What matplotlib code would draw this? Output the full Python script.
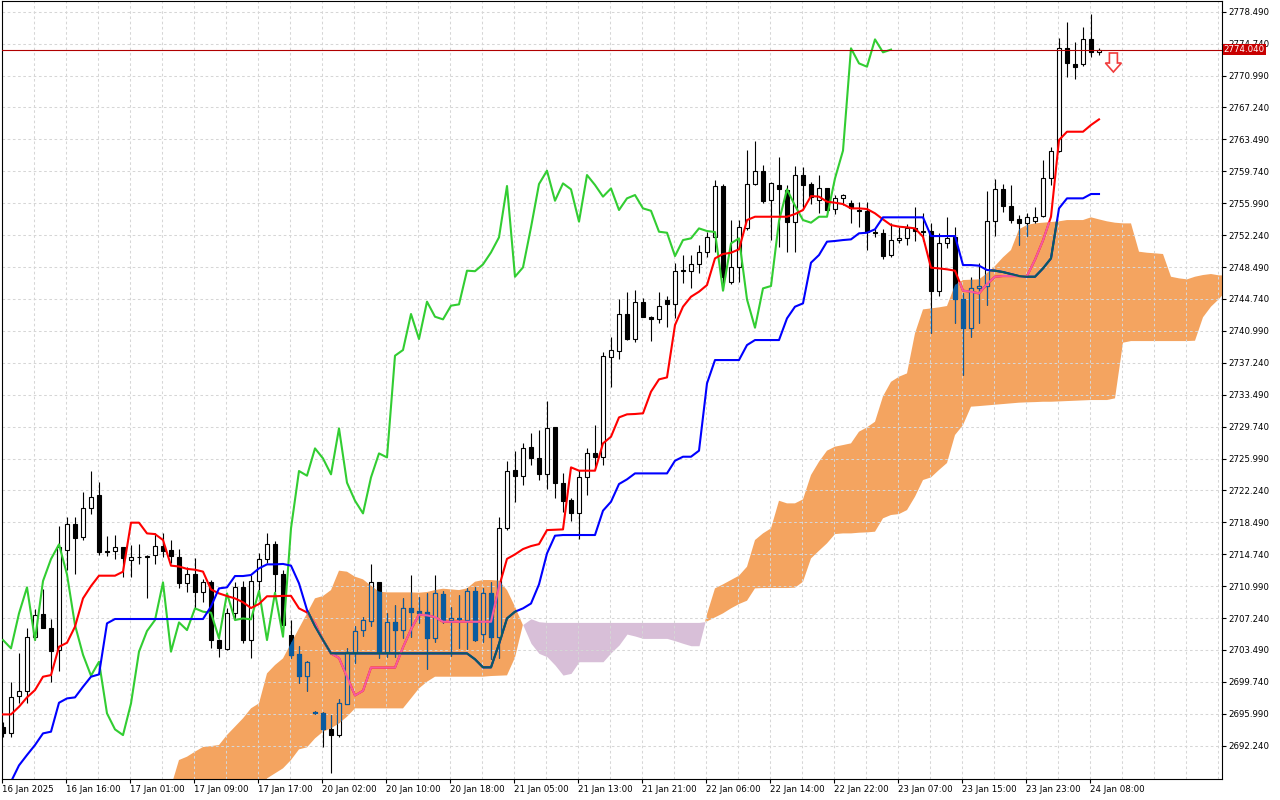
import numpy as np
import matplotlib.pyplot as plt
from matplotlib.path import Path
from matplotlib.patches import Polygon
import matplotlib.transforms as mtransforms

plt.rcParams['font.family'] = ['DejaVu Sans']

# --- H1 candles (XAUUSD style), bar 0 = 16 Jan 2025 08:00 ---
opens = [
    2694.47, 2693.77, 2698.08, 2698.67, 2705.05, 2707.71, 2706.03, 2703.48, 2715.23, 2718.25,
    2716.72, 2720.13, 2721.70, 2715.12, 2715.12, 2715.55, 2714.06, 2714.37, 2714.45, 2714.65,
    2715.74, 2715.23, 2714.45, 2711.32, 2712.37, 2710.26, 2711.43, 2704.66, 2703.60, 2707.79,
    2710.85, 2704.66, 2711.59, 2714.18, 2715.90, 2712.37, 2705.30, 2702.97, 2700.47, 2696.24,
    2696.04, 2694.16, 2693.49, 2697.14, 2703.29, 2705.83, 2706.89, 2711.43, 2703.29, 2706.73,
    2705.83, 2708.38, 2708.07, 2707.99, 2704.85, 2710.06, 2707.01, 2707.20, 2707.01, 2710.42,
    2705.32, 2710.22, 2705.05, 2717.78, 2724.63, 2723.97, 2727.30, 2726.00, 2724.13, 2729.65,
    2723.15, 2721.11, 2719.54, 2723.77, 2726.59, 2726.12, 2737.95, 2738.66, 2742.97, 2740.03,
    2744.42, 2742.65, 2742.34, 2744.61, 2744.10, 2748.06, 2748.02, 2748.80, 2750.21, 2751.98,
    2758.01, 2746.77, 2748.45, 2753.03, 2758.24, 2759.81, 2756.36, 2758.13, 2757.54, 2753.82,
    2759.30, 2758.24, 2756.36, 2757.73, 2755.27, 2756.56, 2755.97, 2755.20, 2755.11, 2752.60,
    2752.45, 2749.90, 2751.66, 2751.86, 2753.11, 2752.70, 2752.72, 2745.71, 2751.35, 2752.05,
    2744.69, 2741.36, 2745.98, 2746.26, 2753.89, 2757.62, 2755.70, 2754.09, 2753.70, 2753.93,
    2754.48, 2758.91, 2762.17, 2774.19, 2772.34, 2772.31, 2775.24, 2773.80,
]
highs = [
    2695.00, 2699.76, 2703.17, 2706.03, 2708.26, 2710.61, 2707.09, 2718.05, 2719.07, 2719.07,
    2722.09, 2724.52, 2723.19, 2716.88, 2716.99, 2715.55, 2715.82, 2715.94, 2714.65, 2717.19,
    2717.19, 2716.41, 2715.31, 2713.28, 2714.26, 2711.83, 2711.71, 2704.74, 2708.38, 2711.51,
    2711.63, 2712.30, 2714.92, 2717.19, 2716.29, 2712.88, 2707.01, 2703.95, 2702.23, 2696.30,
    2696.24, 2695.85, 2697.68, 2703.76, 2706.30, 2707.32, 2713.59, 2711.51, 2707.87, 2708.77,
    2709.55, 2712.30, 2709.75, 2710.22, 2712.30, 2710.42, 2708.57, 2709.95, 2710.73, 2710.93,
    2710.73, 2711.51, 2719.15, 2725.69, 2726.87, 2727.77, 2728.94, 2729.33, 2732.74, 2729.65,
    2724.24, 2721.30, 2724.63, 2727.18, 2729.92, 2738.54, 2740.30, 2744.69, 2745.59, 2745.79,
    2744.81, 2742.73, 2745.59, 2745.08, 2748.92, 2749.90, 2749.90, 2751.08, 2752.64, 2758.71,
    2758.24, 2754.01, 2754.01, 2762.24, 2763.30, 2760.48, 2758.52, 2761.46, 2758.13, 2760.36,
    2760.28, 2758.52, 2759.30, 2757.81, 2756.95, 2757.07, 2756.36, 2756.17, 2756.17, 2752.92,
    2752.92, 2753.70, 2753.23, 2753.54, 2755.58, 2754.80, 2753.70, 2752.45, 2754.40, 2753.23,
    2745.40, 2747.35, 2748.92, 2757.46, 2758.79, 2758.24, 2758.13, 2754.60, 2754.80, 2755.58,
    2761.06, 2762.63, 2775.36, 2777.32, 2774.97, 2776.65, 2778.22, 2774.18,
]
lows = [
    2693.30, 2693.22, 2697.29, 2697.21, 2704.66, 2706.03, 2699.76, 2701.05, 2712.88, 2712.41,
    2716.41, 2719.46, 2714.65, 2714.57, 2714.18, 2712.10, 2712.10, 2713.55, 2709.55, 2713.59,
    2714.37, 2713.67, 2710.81, 2710.34, 2708.38, 2709.16, 2703.68, 2702.62, 2703.48, 2707.13,
    2704.27, 2702.50, 2710.53, 2713.67, 2710.34, 2706.03, 2702.50, 2699.65, 2698.66, 2696.00,
    2692.12, 2688.99, 2693.30, 2697.14, 2701.92, 2705.13, 2706.30, 2702.50, 2702.70, 2702.70,
    2704.93, 2705.05, 2706.62, 2701.21, 2704.46, 2706.62, 2702.82, 2703.76, 2703.60, 2704.58,
    2704.46, 2702.39, 2702.50, 2717.58, 2720.91, 2722.87, 2725.22, 2723.46, 2722.40, 2721.30,
    2719.74, 2718.68, 2716.50, 2721.70, 2725.03, 2725.22, 2734.43, 2737.64, 2739.91, 2739.72,
    2742.58, 2739.83, 2741.87, 2741.48, 2742.46, 2746.65, 2746.06, 2747.75, 2749.70, 2750.29,
    2745.79, 2746.49, 2746.77, 2752.84, 2758.13, 2755.97, 2751.66, 2750.88, 2750.29, 2750.29,
    2755.38, 2755.89, 2754.80, 2754.99, 2754.72, 2755.78, 2753.70, 2753.23, 2750.49, 2751.98,
    2749.39, 2749.70, 2751.35, 2751.08, 2751.59, 2751.59, 2740.77, 2745.12, 2750.68, 2741.87,
    2735.80, 2740.22, 2741.95, 2744.02, 2752.13, 2755.00, 2753.70, 2751.08, 2752.13, 2753.70,
    2754.40, 2758.13, 2762.05, 2770.86, 2770.54, 2772.11, 2773.21, 2773.40,
]
closes = [
    2693.77, 2698.00, 2698.67, 2705.05, 2707.56, 2706.11, 2703.41, 2715.55, 2718.25, 2716.60,
    2720.13, 2721.50, 2714.96, 2715.00, 2715.55, 2714.33, 2714.37, 2714.40, 2714.49, 2715.74,
    2715.16, 2714.57, 2711.32, 2712.37, 2710.26, 2711.43, 2704.66, 2703.68, 2707.79, 2710.85,
    2704.66, 2711.59, 2714.18, 2715.90, 2712.37, 2706.42, 2702.93, 2700.47, 2702.11, 2696.04,
    2694.16, 2693.49, 2697.21, 2703.29, 2705.72, 2707.01, 2711.43, 2703.29, 2706.73, 2705.83,
    2708.38, 2707.99, 2707.87, 2704.85, 2710.14, 2707.01, 2707.20, 2707.09, 2710.42, 2704.66,
    2710.22, 2705.05, 2717.78, 2724.52, 2723.97, 2727.18, 2726.00, 2724.13, 2729.53, 2723.15,
    2721.03, 2719.54, 2723.77, 2726.59, 2726.12, 2738.07, 2738.74, 2742.97, 2740.03, 2744.42,
    2742.65, 2742.34, 2743.95, 2744.10, 2748.06, 2748.00, 2748.80, 2750.21, 2751.98, 2758.01,
    2747.35, 2748.45, 2753.15, 2758.24, 2759.81, 2756.28, 2758.32, 2757.62, 2753.82, 2759.30,
    2758.13, 2756.76, 2757.73, 2755.19, 2756.56, 2756.95, 2755.38, 2755.10, 2752.64, 2752.52,
    2749.78, 2751.66, 2751.86, 2753.03, 2752.72, 2752.60, 2745.71, 2751.27, 2751.86, 2744.69,
    2741.36, 2745.98, 2746.26, 2753.89, 2757.62, 2755.70, 2754.01, 2753.70, 2754.40, 2754.40,
    2758.91, 2762.17, 2774.19, 2772.42, 2772.03, 2775.24, 2773.72, 2774.04,
]

# --- Ichimoku lines ---
tenkan = [
    2695.92, 2695.92, 2696.82, 2697.92, 2698.78, 2700.35, 2700.54, 2703.87, 2704.34, 2706.23,
    2709.55, 2711.00, 2712.22, 2712.22, 2712.22, 2712.69, 2718.45, 2718.45, 2717.19, 2717.11,
    2716.41, 2713.40, 2713.30, 2713.02, 2712.92, 2712.70, 2710.60, 2710.14, 2709.83, 2709.55,
    2709.10, 2708.42, 2708.90, 2709.80, 2709.80, 2709.85, 2709.85, 2708.38, 2707.90, 2706.62,
    2704.62, 2703.09, 2702.55, 2700.35, 2698.15, 2698.70, 2701.42, 2701.42, 2701.42, 2701.42,
    2703.80, 2705.90, 2707.65, 2707.56, 2707.36, 2706.81, 2706.81, 2706.81, 2706.81, 2706.81,
    2706.81, 2706.81, 2710.90, 2714.20, 2714.72, 2715.35, 2715.70, 2715.93, 2717.58, 2717.62,
    2717.66, 2724.95, 2724.56, 2724.56, 2724.56, 2727.77, 2728.55, 2730.82, 2731.18, 2731.22,
    2731.30, 2733.84, 2735.29, 2735.52, 2741.67, 2743.83, 2745.00, 2745.59, 2746.37, 2749.51,
    2750.02, 2750.17, 2750.57, 2754.01, 2754.40, 2754.40, 2754.40, 2754.40, 2754.40, 2754.72,
    2755.19, 2756.83, 2756.76, 2756.17, 2756.05, 2755.89, 2755.38, 2755.38, 2755.31, 2754.80,
    2754.09, 2753.42, 2753.23, 2753.15, 2753.03, 2752.05, 2748.41, 2748.33, 2748.22, 2748.06,
    2745.71, 2745.59, 2745.39, 2746.49, 2747.35, 2747.43, 2747.43, 2747.43, 2747.43, 2749.35,
    2751.62, 2754.40, 2763.41, 2764.39, 2764.39, 2764.39, 2765.18, 2765.84,
]
kijun = [
    2686.05, 2688.01, 2689.93, 2691.15, 2692.32, 2693.69, 2693.89, 2697.29, 2697.80, 2697.92,
    2699.17, 2700.35, 2700.62, 2706.62, 2707.13, 2707.13, 2707.13, 2707.13, 2707.13, 2707.13,
    2707.13, 2707.13, 2707.13, 2707.13, 2707.13, 2707.13, 2708.60, 2710.73, 2710.85, 2712.18,
    2712.18, 2712.30, 2713.08, 2713.55, 2713.55, 2713.60, 2713.40, 2711.32, 2708.20, 2706.30,
    2704.66, 2703.09, 2703.09, 2703.09, 2703.09, 2703.09, 2703.09, 2703.09, 2703.09, 2703.09,
    2703.09, 2703.09, 2703.09, 2703.09, 2703.09, 2703.09, 2703.09, 2703.09, 2703.09, 2702.40,
    2701.45, 2701.45, 2704.20, 2707.20, 2707.99, 2708.38, 2708.95, 2711.20, 2714.84, 2716.92,
    2717.00, 2717.00, 2717.00, 2717.00, 2717.00, 2719.86, 2720.91, 2722.99, 2723.54, 2724.24,
    2724.24, 2724.24, 2724.24, 2724.24, 2725.73, 2726.20, 2726.20, 2726.91, 2734.82, 2737.56,
    2737.56, 2737.56, 2737.56, 2739.32, 2739.91, 2739.91, 2739.91, 2739.91, 2742.46, 2743.83,
    2744.22, 2749.00, 2749.90, 2751.47, 2751.55, 2751.66, 2751.74, 2752.45, 2752.52, 2752.92,
    2754.33, 2754.33, 2754.33, 2754.33, 2754.33, 2754.33, 2752.13, 2752.13, 2752.13, 2752.13,
    2748.72, 2748.72, 2748.65, 2748.14, 2748.06, 2747.90, 2747.67, 2747.43, 2747.35, 2747.35,
    2748.33, 2749.51, 2755.38, 2756.56, 2756.56, 2756.56, 2757.07, 2757.07,
]

# senkou spans start at bar 21 and run 26 bars into the future
cloud_start = 21
span_a = [
    2687.42, 2690.56, 2690.95, 2691.54, 2692.09, 2692.20, 2692.32, 2693.50, 2694.48, 2695.46,
    2696.63, 2697.22, 2700.74, 2701.72, 2702.50, 2704.27, 2706.03, 2707.79, 2709.56, 2709.83,
    2710.53, 2712.81, 2712.69, 2712.10, 2711.79, 2711.04, 2710.34, 2710.26, 2710.26, 2710.26,
    2710.26, 2710.22, 2710.30, 2710.53, 2710.69, 2710.61, 2710.53, 2710.73, 2711.51, 2711.71,
    2711.71, 2711.63, 2710.53, 2708.58, 2706.40, 2704.27, 2703.09, 2702.70, 2701.72, 2700.54,
    2700.74, 2702.11, 2702.11, 2702.11, 2702.11, 2703.17, 2704.07, 2705.36, 2705.13, 2704.85,
    2704.85, 2704.85, 2704.85, 2704.58, 2704.27, 2703.99, 2703.99, 2707.71, 2710.73, 2711.20,
    2711.71, 2712.22, 2713.27, 2716.41, 2717.19, 2717.78, 2721.03, 2720.72, 2720.72, 2721.19,
    2724.05, 2725.61, 2726.91, 2727.38, 2727.57, 2727.77, 2729.14, 2729.65, 2730.31, 2733.30,
    2735.00, 2735.60, 2735.99, 2740.70, 2743.51, 2743.63, 2743.75, 2743.91, 2746.37, 2746.96,
    2747.00, 2747.04, 2747.75, 2748.61, 2749.63, 2750.49, 2752.92, 2753.43, 2753.62, 2753.70,
    2753.78, 2753.86, 2754.01, 2754.01, 2754.01, 2754.33, 2754.09, 2753.86, 2753.70, 2753.62,
    2753.62, 2750.29, 2750.17, 2750.10, 2750.02, 2747.35, 2747.16, 2747.04, 2747.35, 2747.55,
    2747.67, 2747.51, 2747.50,
]
span_b = [
    2686.00, 2686.00, 2686.00, 2686.00, 2686.00, 2686.00, 2686.00, 2686.00, 2686.00, 2686.00,
    2686.00, 2686.00, 2688.40, 2688.99, 2689.58, 2690.56, 2691.81, 2692.05, 2693.10, 2693.89,
    2694.28, 2694.87, 2695.65, 2696.63, 2696.63, 2696.63, 2696.63, 2696.63, 2696.63, 2696.63,
    2697.80, 2698.98, 2699.76, 2700.35, 2700.35, 2700.35, 2700.35, 2700.35, 2700.35, 2700.35,
    2700.43, 2700.47, 2700.51, 2702.60, 2706.50, 2707.16, 2706.81, 2706.73, 2706.73, 2706.73,
    2706.73, 2706.73, 2706.73, 2706.73, 2706.73, 2706.73, 2706.73, 2706.73, 2706.73, 2706.73,
    2706.73, 2706.73, 2706.73, 2706.73, 2706.73, 2706.73, 2706.73, 2706.85, 2707.32, 2707.79,
    2708.38, 2708.89, 2709.28, 2710.73, 2710.77, 2710.77, 2710.77, 2710.77, 2710.81, 2711.51,
    2714.25, 2715.15, 2716.02, 2717.11, 2717.19, 2717.19, 2717.27, 2717.31, 2717.39, 2718.96,
    2719.35, 2719.46, 2719.93, 2721.50, 2723.46, 2723.77, 2724.64, 2725.46, 2728.75, 2729.92,
    2732.08, 2732.15, 2732.23, 2732.31, 2732.39, 2732.47, 2732.55, 2732.59, 2732.62, 2732.66,
    2732.66, 2732.70, 2732.74, 2732.78, 2732.82, 2732.86, 2732.86, 2732.86, 2733.06, 2739.60,
    2739.79, 2739.79, 2739.79, 2739.79, 2739.79, 2739.79, 2739.79, 2739.79, 2739.83, 2742.58,
    2743.83, 2744.73, 2745.80,
]
chikou_shift = 26

time_labels = [
    '16 Jan 2025', '16 Jan 16:00', '17 Jan 01:00', '17 Jan 09:00', '17 Jan 17:00',
    '20 Jan 02:00', '20 Jan 10:00', '20 Jan 18:00', '21 Jan 05:00', '21 Jan 13:00',
    '21 Jan 21:00', '22 Jan 06:00', '22 Jan 14:00', '22 Jan 22:00', '23 Jan 07:00',
    '23 Jan 15:00', '23 Jan 23:00', '24 Jan 08:00',
]
label_every = 8
price_ticks = [2692.24, 2695.99, 2699.74, 2703.49, 2707.24, 2710.99, 2714.74, 2718.49,
               2722.24, 2725.99, 2729.74, 2733.49, 2737.24, 2740.99, 2744.74, 2748.49,
               2752.24, 2755.99, 2759.74, 2763.49, 2767.24, 2770.99, 2774.74, 2778.49]
last_price = closes[-1]

# colours (MT4 defaults); the "inside" set is what the cloud does to them
SANDY = '#F4A460'
THISTLE = '#D8BFD8'
normal = dict(wick='black', bull='white', bear='black',
              tenkan='#FF0000', kijun='#0000FF', chikou='#32CD32')
inside = dict(wick='#0B5B9F', bull=SANDY, bear='#0B5B9F',
              tenkan='#F45B9F', kijun='#0B5B60', chikou='#3996AD')

o = np.array(opens); h = np.array(highs); l = np.array(lows); c = np.array(closes)
bars = np.arange(len(o))
xmin, xmax = -0.125, 152.375
ymin, ymax = 2688.33, 2779.75

fig = plt.figure(figsize=(12.8, 8), dpi=100)
ax = fig.add_axes([2 / 1280, 21 / 800, 1220 / 1280, 778 / 800])
ax.set_xlim(xmin, xmax)
ax.set_ylim(ymin, ymax)

# grid (dashed, above the cloud but under the candles)
dash = (0, (2.5, 2.5))
ax.hlines(price_ticks, xmin, xmax, colors='#D6D6D6', linestyles=dash, lw=0.75, zorder=1.5)
ax.vlines(np.arange(0, 153, 4) - 0.125, ymin, ymax, colors='#D6D6D6',
          linestyles=dash, lw=0.75, zorder=1.5)

# kumo
cx = np.arange(cloud_start, cloud_start + len(span_a))
sa = np.array(span_a); sb = np.array(span_b)
kumo_up = ax.fill_between(cx, sa, sb, where=sa >= sb, interpolate=True,
                          color=SANDY, lw=0, zorder=1)
ax.fill_between(cx, sa, sb, where=sa < sb, interpolate=True,
                color=THISTLE, lw=0, zorder=1)
kumo_path = Path.make_compound_path(*kumo_up.get_paths())


def draw_layer(col, z, clip=None):
    """candles + tenkan/kijun/chikou in one colour set"""
    arts = []
    arts.append(ax.vlines(bars, l, h, colors=col['wick'], lw=0.8, zorder=z))
    up = c >= o
    body_low = np.minimum(o, c)
    body_h = np.maximum(np.abs(c - o), 0.1)
    faces = [col['bull'] if u else col['bear'] for u in up]
    bc = ax.bar(bars, body_h, bottom=body_low, width=0.6, color=faces,
                edgecolor=col['wick'], lw=0.8, zorder=z + 0.1)
    arts.extend(bc.patches)
    arts += ax.plot(bars, tenkan, color=col['tenkan'], lw=1.5, zorder=z + 0.3)
    arts += ax.plot(bars, kijun, color=col['kijun'], lw=1.5, zorder=z + 0.3)
    arts += ax.plot(bars[:-chikou_shift], c[chikou_shift:], color=col['chikou'],
                    lw=1.5, zorder=z + 0.2)
    if clip is not None:
        for a in arts:
            a.set_clip_path(clip, ax.transData)


draw_layer(normal, 3)
draw_layer(inside, 4, clip=kumo_path)

# current price line + label
ax.axhline(last_price, color='#B00000', lw=0.8, zorder=6)
trans = mtransforms.blended_transform_factory(ax.transAxes, ax.transData)
ax.text(1.0015, last_price, f'{last_price:.3f}', transform=trans, ha='left', va='center',
        fontsize=6.2, color='white', zorder=10, clip_on=False,
        bbox=dict(boxstyle='square,pad=0.15', fc='#C80000', ec='none'))

# sell arrow object next to the last bar
arrow_bar, arrow_price = 138.8, 2773.64
arrow_px = [(-4, 0), (4, 0), (4, -10), (8, -10), (0, -19), (-8, -10), (-4, -10)]
arrow_tr = mtransforms.ScaledTranslation(arrow_bar, arrow_price, ax.transData)
ax.add_patch(Polygon(arrow_px, closed=True, transform=arrow_tr, fc='white',
                     ec='#F03C3C', lw=1.2, zorder=8))

# axes cosmetics
for s in ax.spines.values():
    s.set_color('black')
    s.set_linewidth(0.8)
ax.yaxis.tick_right()
ax.set_yticks(price_ticks)
ax.set_yticklabels([f'{p:.3f}' for p in price_ticks])
ax.set_xticks(np.arange(0, len(bars), label_every) - 0.125)
ax.set_xticklabels(time_labels)
for t in ax.get_xticklabels():
    t.set_ha('left')
ax.tick_params(axis='both', direction='out', length=3, width=0.8,
               labelsize=6.2, pad=1.5, colors='black')

fig.savefig('out.png', dpi=100)
